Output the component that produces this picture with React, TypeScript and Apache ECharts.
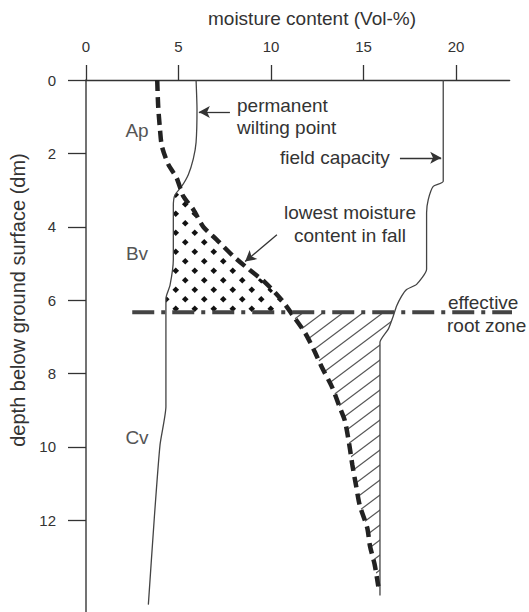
import React, { useEffect, useRef } from "react";
import * as echarts from "echarts";

// Axis ticks
const X_TICKS = [0, 5, 10, 15, 20];
const Y_TICKS = [0, 2, 4, 6, 8, 10, 12];

// permanent wilting point (depth dm -> moisture Vol-%)
const WILTING_DEPTH = [0, 0.8, 1.7, 2.15, 2.58, 2.9, 3.13, 3.44, 4.9, 5.6, 5.95, 8.9, 9.95, 11.95, 14.3];
const WILTING_MOIST = [5.95, 6.0, 5.95, 5.8, 5.53, 5.17, 4.81, 4.72, 4.72, 4.54, 4.32, 4.32, 4.0, 3.69, 3.37];

// field capacity
const FIELD_DEPTH = [0, 2.76, 2.9, 3.26, 3.62, 5.16, 5.57, 5.71, 5.89, 6.16, 6.43, 6.79, 7.15, 14.05];
const FIELD_MOIST = [19.31, 19.31, 18.77, 18.5, 18.41, 18.41, 17.87, 17.33, 17.06, 16.79, 16.61, 16.34, 15.89, 15.89];

// lowest moisture content in fall
const FALL_DEPTH = [0, 0.7, 1.35, 1.8, 2.3, 2.67, 3.17, 3.53, 4.0, 4.35, 4.8, 5.16, 5.5, 5.98, 6.43, 6.9, 7.34, 7.83, 8.37, 8.9, 9.3, 10.0, 10.5, 11.06, 11.6, 12.2, 12.7, 13.2, 13.8];
const FALL_MOIST = [3.85, 3.9, 4.0, 4.1, 4.45, 4.9, 5.26, 5.8, 6.34, 7.06, 7.96, 8.8, 9.65, 10.55, 11.2, 11.85, 12.3, 12.75, 13.3, 13.7, 14.0, 14.25, 14.4, 14.6, 14.8, 15.2, 15.35, 15.6, 15.8];

// effective root zone
const ROOT_ZONE_DEPTH = 6.33;
const ROOT_ZONE_X = [2.5, 23.9];
// top of the dotted (Bv) deficit zone
const BV_DEFICIT_TOP = 3.0;

// annotation arrows [from, to] in data units (moisture, depth)
const ARROW_WILTING = [[7.78, 0.87], [6.1, 0.87]];
const ARROW_FIELD = [[16.97, 2.12], [19.2, 2.12]];
const ARROW_FALL = [[10.32, 4.22], [8.6, 4.95]];

const FONT = '"Liberation Sans", Arial, sans-serif';

function xAt(depths: number[], moist: number[], d: number): number {
  if (d <= depths[0]) return moist[0];
  for (let i = 1; i < depths.length; i++) {
    if (d <= depths[i]) {
      const t = (d - depths[i - 1]) / (depths[i] - depths[i - 1]);
      return moist[i - 1] + t * (moist[i] - moist[i - 1]);
    }
  }
  return moist[moist.length - 1];
}

function band(
  lD: number[], lX: number[], rD: number[], rX: number[],
  d0: number, d1L: number, d1R: number
): number[][] {
  const left: number[][] = [[xAt(lD, lX, d0), d0]];
  lD.forEach((d, i) => { if (d > d0 && d < d1L) left.push([lX[i], d]); });
  left.push([xAt(lD, lX, d1L), d1L]);
  const right: number[][] = [[xAt(rD, rX, d0), d0]];
  rD.forEach((d, i) => { if (d > d0 && d < d1R) right.push([rX[i], d]); });
  right.push([xAt(rD, rX, d1R), d1R]);
  return left.concat(right.reverse());
}

function pairs(depths: number[], moist: number[]) {
  return depths.map((d, i) => [moist[i], d]);
}

function makeDots() {
  const c = document.createElement("canvas");
  c.width = 19; c.height = 19;
  const g = c.getContext("2d")!;
  g.fillStyle = "#111";
  const dia = (cx: number, cy: number, r: number) => {
    g.beginPath();
    g.moveTo(cx, cy - r); g.lineTo(cx + r, cy); g.lineTo(cx, cy + r); g.lineTo(cx - r, cy);
    g.closePath(); g.fill();
  };
  dia(4.75, 4.75, 3.3);
  dia(14.25, 14.25, 3.3);
  return c;
}

function makeHatch() {
  const W = 20, H = 15;
  const c = document.createElement("canvas");
  c.width = W; c.height = H;
  const g = c.getContext("2d")!;
  g.strokeStyle = "#555";
  g.lineWidth = 1.2;
  for (const k of [-1, 0, 1]) {
    g.beginPath();
    g.moveTo(-1, H * (k + 1) + H / W);
    g.lineTo(W + 1, H * k - H / W);
    g.stroke();
  }
  return c;
}

export default function App() {
  const ref = useRef<HTMLDivElement>(null);

  useEffect(() => {
    if (!ref.current) return;
    const chart = echarts.init(ref.current, undefined, { renderer: "svg" });

    const dots = makeDots();
    const hatch = makeHatch();
    const patterns = [
      { image: dots.toDataURL(), imageWidth: 19, imageHeight: 19, repeat: "repeat" },
      { image: hatch.toDataURL(), imageWidth: 20, imageHeight: 15, repeat: "repeat" },
    ];
    const regions = [
      band(WILTING_DEPTH, WILTING_MOIST, FALL_DEPTH, FALL_MOIST, BV_DEFICIT_TOP, ROOT_ZONE_DEPTH, ROOT_ZONE_DEPTH),
      band(FALL_DEPTH, FALL_MOIST, FIELD_DEPTH, FIELD_MOIST, ROOT_ZONE_DEPTH,
        FALL_DEPTH[FALL_DEPTH.length - 1], FIELD_DEPTH[FIELD_DEPTH.length - 1]),
    ];

    const textStyle = (extra: any) => ({
      fontFamily: FONT, fontSize: 19, fill: "#333", ...extra,
    });

    const arrowPair = (a: number[][]) => [{ coord: a[0] }, { coord: a[1] }];

    chart.setOption({
      animation: false,
      grid: { left: 86, top: 80, right: 19.35, bottom: -1, containLabel: false },
      xAxis: {
        type: "value",
        position: "top",
        min: 0,
        max: 22.9,
        axisLine: { show: true, lineStyle: { color: "#333", width: 1.3 } },
        axisTick: { show: true, length: 15, customValues: X_TICKS, lineStyle: { color: "#333", width: 1.3 } },
        axisLabel: { customValues: X_TICKS, margin: 26, fontSize: 15, color: "#333", fontFamily: FONT },
        splitLine: { show: false },
      },
      yAxis: {
        type: "value",
        inverse: true,
        min: 0,
        max: 14.5,
        axisLine: { show: true, onZero: false, lineStyle: { color: "#444", width: 1.5 } },
        axisTick: { show: true, length: 18, customValues: Y_TICKS, lineStyle: { color: "#333", width: 1.3 } },
        axisLabel: { customValues: Y_TICKS, margin: 30, fontSize: 15, color: "#333", fontFamily: FONT },
        splitLine: { show: false },
      },
      graphic: [
        { type: "text", x: 312, y: 18, style: textStyle({ text: "moisture content (Vol-%)", textAlign: "center", textVerticalAlign: "middle" }) },
        { type: "text", x: 18, y: 300, rotation: Math.PI / 2, style: textStyle({ text: "depth below ground surface (dm)", fontSize: 20, textAlign: "center", textVerticalAlign: "middle" }) },
        { type: "text", x: 237, y: 105, style: textStyle({ text: "permanent", textAlign: "left", textVerticalAlign: "middle" }) },
        { type: "text", x: 237, y: 127, style: textStyle({ text: "wilting point", textAlign: "left", textVerticalAlign: "middle" }) },
        { type: "text", x: 280, y: 157, style: textStyle({ text: "field capacity", textAlign: "left", textVerticalAlign: "middle" }) },
        { type: "text", x: 350, y: 212, style: textStyle({ text: "lowest moisture", textAlign: "center", textVerticalAlign: "middle" }) },
        { type: "text", x: 350, y: 235, style: textStyle({ text: "content in fall", textAlign: "center", textVerticalAlign: "middle" }) },
        { type: "text", x: 448, y: 302, style: textStyle({ text: "effective", textAlign: "left", textVerticalAlign: "middle" }) },
        { type: "text", x: 447, y: 325, style: textStyle({ text: "root zone", textAlign: "left", textVerticalAlign: "middle" }) },
        { type: "text", x: 137, y: 130, style: textStyle({ text: "Ap", fill: "#555", textAlign: "center", textVerticalAlign: "middle" }) },
        { type: "text", x: 137, y: 253, style: textStyle({ text: "Bv", fill: "#555", textAlign: "center", textVerticalAlign: "middle" }) },
        { type: "text", x: 137, y: 437, style: textStyle({ text: "Cv", fill: "#555", textAlign: "center", textVerticalAlign: "middle" }) },
      ],
      series: [
        {
          type: "custom",
          name: "deficit zones",
          coordinateSystem: "cartesian2d",
          silent: true,
          z: 1,
          data: [[0, 0], [1, 0]],
          renderItem: (params: any, api: any) => {
            const poly = regions[params.dataIndex];
            return {
              type: "polygon",
              shape: { points: poly.map((p) => api.coord(p)) },
              style: { fill: patterns[params.dataIndex], stroke: null },
            };
          },
        },
        {
          type: "line",
          name: "permanent wilting point",
          data: pairs(WILTING_DEPTH, WILTING_MOIST),
          showSymbol: false,
          smooth: 0.2,
          z: 3,
          lineStyle: { color: "#444", width: 1.3 },
        },
        {
          type: "line",
          name: "field capacity",
          data: pairs(FIELD_DEPTH, FIELD_MOIST),
          showSymbol: false,
          smooth: 0.2,
          z: 3,
          lineStyle: { color: "#444", width: 1.3 },
        },
        {
          type: "line",
          name: "lowest moisture content in fall",
          data: pairs(FALL_DEPTH, FALL_MOIST),
          showSymbol: false,
          smooth: 0.25,
          z: 4,
          lineStyle: { color: "#222", width: 4.5, type: [11, 6] },
        },
        {
          type: "line",
          name: "effective root zone",
          data: ROOT_ZONE_X.map((x) => [x, ROOT_ZONE_DEPTH]),
          showSymbol: false,
          clip: false,
          z: 5,
          lineStyle: { color: "#444", width: 4, type: [22, 7, 4, 7] },
          markLine: {
            silent: true,
            symbol: ["none", "arrow"],
            symbolSize: [9, 11],
            label: { show: false },
            lineStyle: { color: "#333", width: 1.3, type: "solid" },
            data: [arrowPair(ARROW_WILTING), arrowPair(ARROW_FIELD), arrowPair(ARROW_FALL)],
          },
        },
      ],
    });

    return () => chart.dispose();
  }, []);

  return (
    <div
      ref={ref}
      style={{ position: "fixed", left: 0, top: 0, width: 529, height: 612, background: "#fff" }}
    />
  );
}
